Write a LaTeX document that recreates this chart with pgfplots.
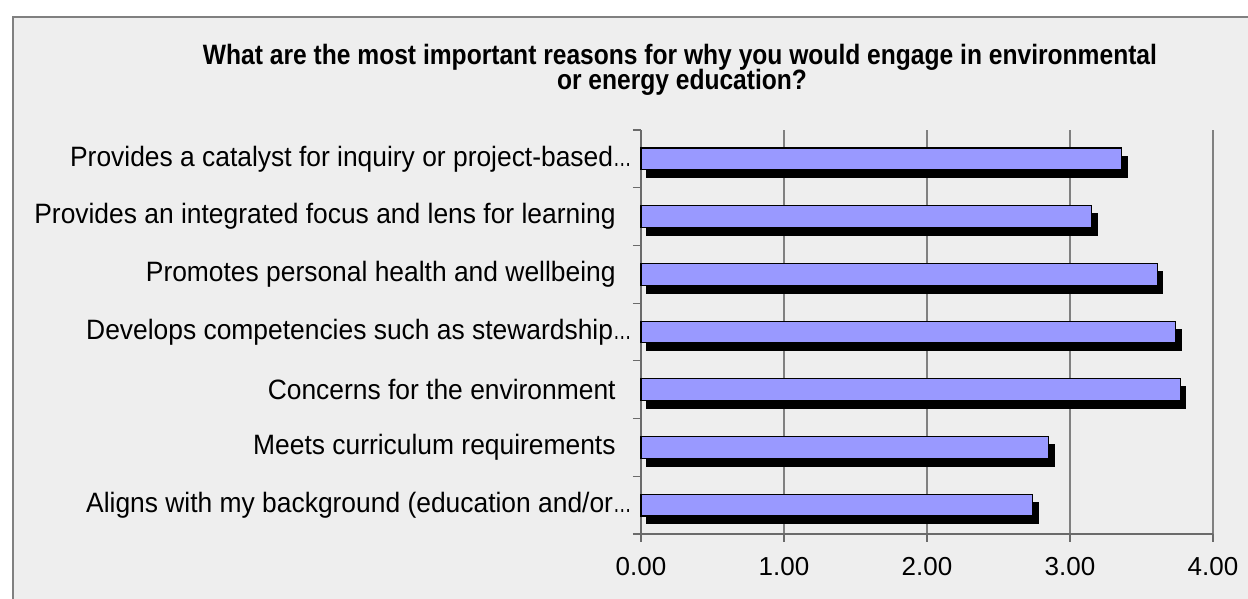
\documentclass[border=0pt]{standalone}
\usepackage{graphicx}
\usepackage{pgfplots}
\pgfplotsset{compat=1.18}
\usepackage{pgfplotstable}
\usepackage{fontspec}
\setmainfont{Liberation Sans}
\definecolor{bg}{HTML}{EEEEEE}
\definecolor{barc}{HTML}{9999FF}
\definecolor{gridc}{HTML}{808080}
\definecolor{axc}{HTML}{6A6A6A}
\pgfplotstableread{
y v
7 3.36
6 3.15
5 3.61
4 3.74
3 3.77
2 2.85
1 2.74
}\data
\newcommand{\lab}[1]{\scalebox{0.943}[1]{#1}}
\newcommand{\dotsx}{\scalebox{0.7}[1]{…}}
\begin{document}
\begin{tikzpicture}[x=1pt,y=1pt]
\path[use as bounding box, fill=white] (0,0) rectangle (624,299.5);
\fill[bg] (6.5,0) rectangle (624,291);
\draw[gridc, line width=0.6pt] (6.5,0) -- (6.5,291) -- (624,291);
\node[anchor=base, inner sep=0pt, font=\fontsize{14}{14}\selectfont\bfseries]
  at (340,267) {\resizebox{477pt}{\height}{What are the most important reasons for why you would engage in environmental}};
\node[anchor=base, inner sep=0pt, font=\fontsize{14}{14}\selectfont\bfseries]
  at (341,254.5) {\resizebox{125pt}{\height}{or energy education?}};
\begin{axis}[
  at={(320.5pt,32.5pt)}, anchor=south west,
  scale only axis, width=286pt, height=202pt,
  xmin=0, xmax=4, ymin=0.5, ymax=7.5,
  axis x line*=bottom, axis y line*=left,
  axis line style={-, draw=axc, line width=0.6pt},
  xtick={0,1,2,3,4},
  xticklabel style={/pgf/number format/.cd, fixed, fixed zerofill, precision=2, /pgf/number format/assume math mode=true, /tikz/.cd, yshift=-4pt, font=\fontsize{13}{15}\selectfont},
  yticklabel style={font=\fontsize{14}{15}\selectfont},
  tick align=outside, major tick length=4pt,
  tick style={draw=axc, line width=0.6pt},
  xmajorgrids, grid style={draw=gridc, line width=0.6pt},
  ytick={0.5,1.5,...,7.5}, yticklabels={},
  extra y ticks={1,2,3,4,5,6,7},
  extra y tick labels={\lab{Aligns with my background (education and/or\dotsx},
    \lab{Meets curriculum requirements}\rule{8pt}{0pt},
    \lab{Concerns for the environment}\rule{8pt}{0pt},
    \lab{Develops competencies such as stewardship\dotsx},
    \lab{Promotes personal health and wellbeing}\rule{8pt}{0pt},
    \lab{Provides an integrated focus and lens for learning}\rule{8pt}{0pt},
    \lab{Provides a catalyst for inquiry or project-based\dotsx}},
  extra y tick style={major tick length=0pt, yticklabel style={anchor=east, inner sep=0pt, xshift=-4.5pt}},
  xbar, bar width=10.85pt,
  clip=false,
]
\addplot[fill=black, draw=black, line width=0.5pt, bar shift=-1pt, xshift=2.8pt, yshift=-3pt] table[x=v, y=y] {\data};
\addplot[fill=barc, draw=black, line width=0.6pt, bar shift=0pt] table[x=v, y=y] {\data};
\end{axis}
\end{tikzpicture}
\end{document}
